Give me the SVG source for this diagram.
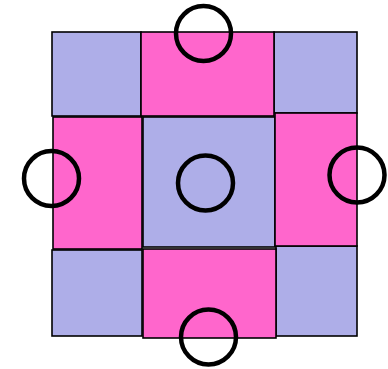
<svg xmlns="http://www.w3.org/2000/svg" width="388" height="369" viewBox="0 0 388 369">
<style>
.b{fill:#aeaee8;stroke:#000;stroke-width:1.6}
.p{fill:#ff66cc;stroke:#000;stroke-width:1.6}
.c{fill:none;stroke:#000;stroke-width:4.5}
</style>
<rect width="388" height="369" fill="#fff"/>
<g id="tl"><rect class="b" x="52" y="32" width="89" height="84"/></g>
<g id="tr"><rect class="b" x="274" y="32" width="83" height="81"/></g>
<g id="bl"><rect class="b" x="52" y="250" width="90" height="86"/></g>
<g id="br"><rect class="b" x="276" y="246" width="81" height="90"/></g>
<g id="center"><rect class="b" x="143" y="117" width="132" height="130"/></g>
<g id="top"><rect class="p" x="141" y="32" width="133" height="84"/></g>
<g id="left"><rect class="p" x="53" y="117" width="89" height="132"/></g>
<g id="right"><rect class="p" x="275" y="113" width="82" height="133"/></g>
<g id="bottom"><rect class="p" x="143" y="249" width="133" height="89"/></g>
<g id="circles">
<circle class="c" cx="203.5" cy="33.5" r="27.5"/>
<circle class="c" cx="51.5" cy="178.5" r="27.5"/>
<circle class="c" cx="357" cy="175" r="27.5"/>
<circle class="c" cx="205.5" cy="183" r="27.5"/>
<circle class="c" cx="208.5" cy="337" r="27.5"/>
</g>
</svg>
